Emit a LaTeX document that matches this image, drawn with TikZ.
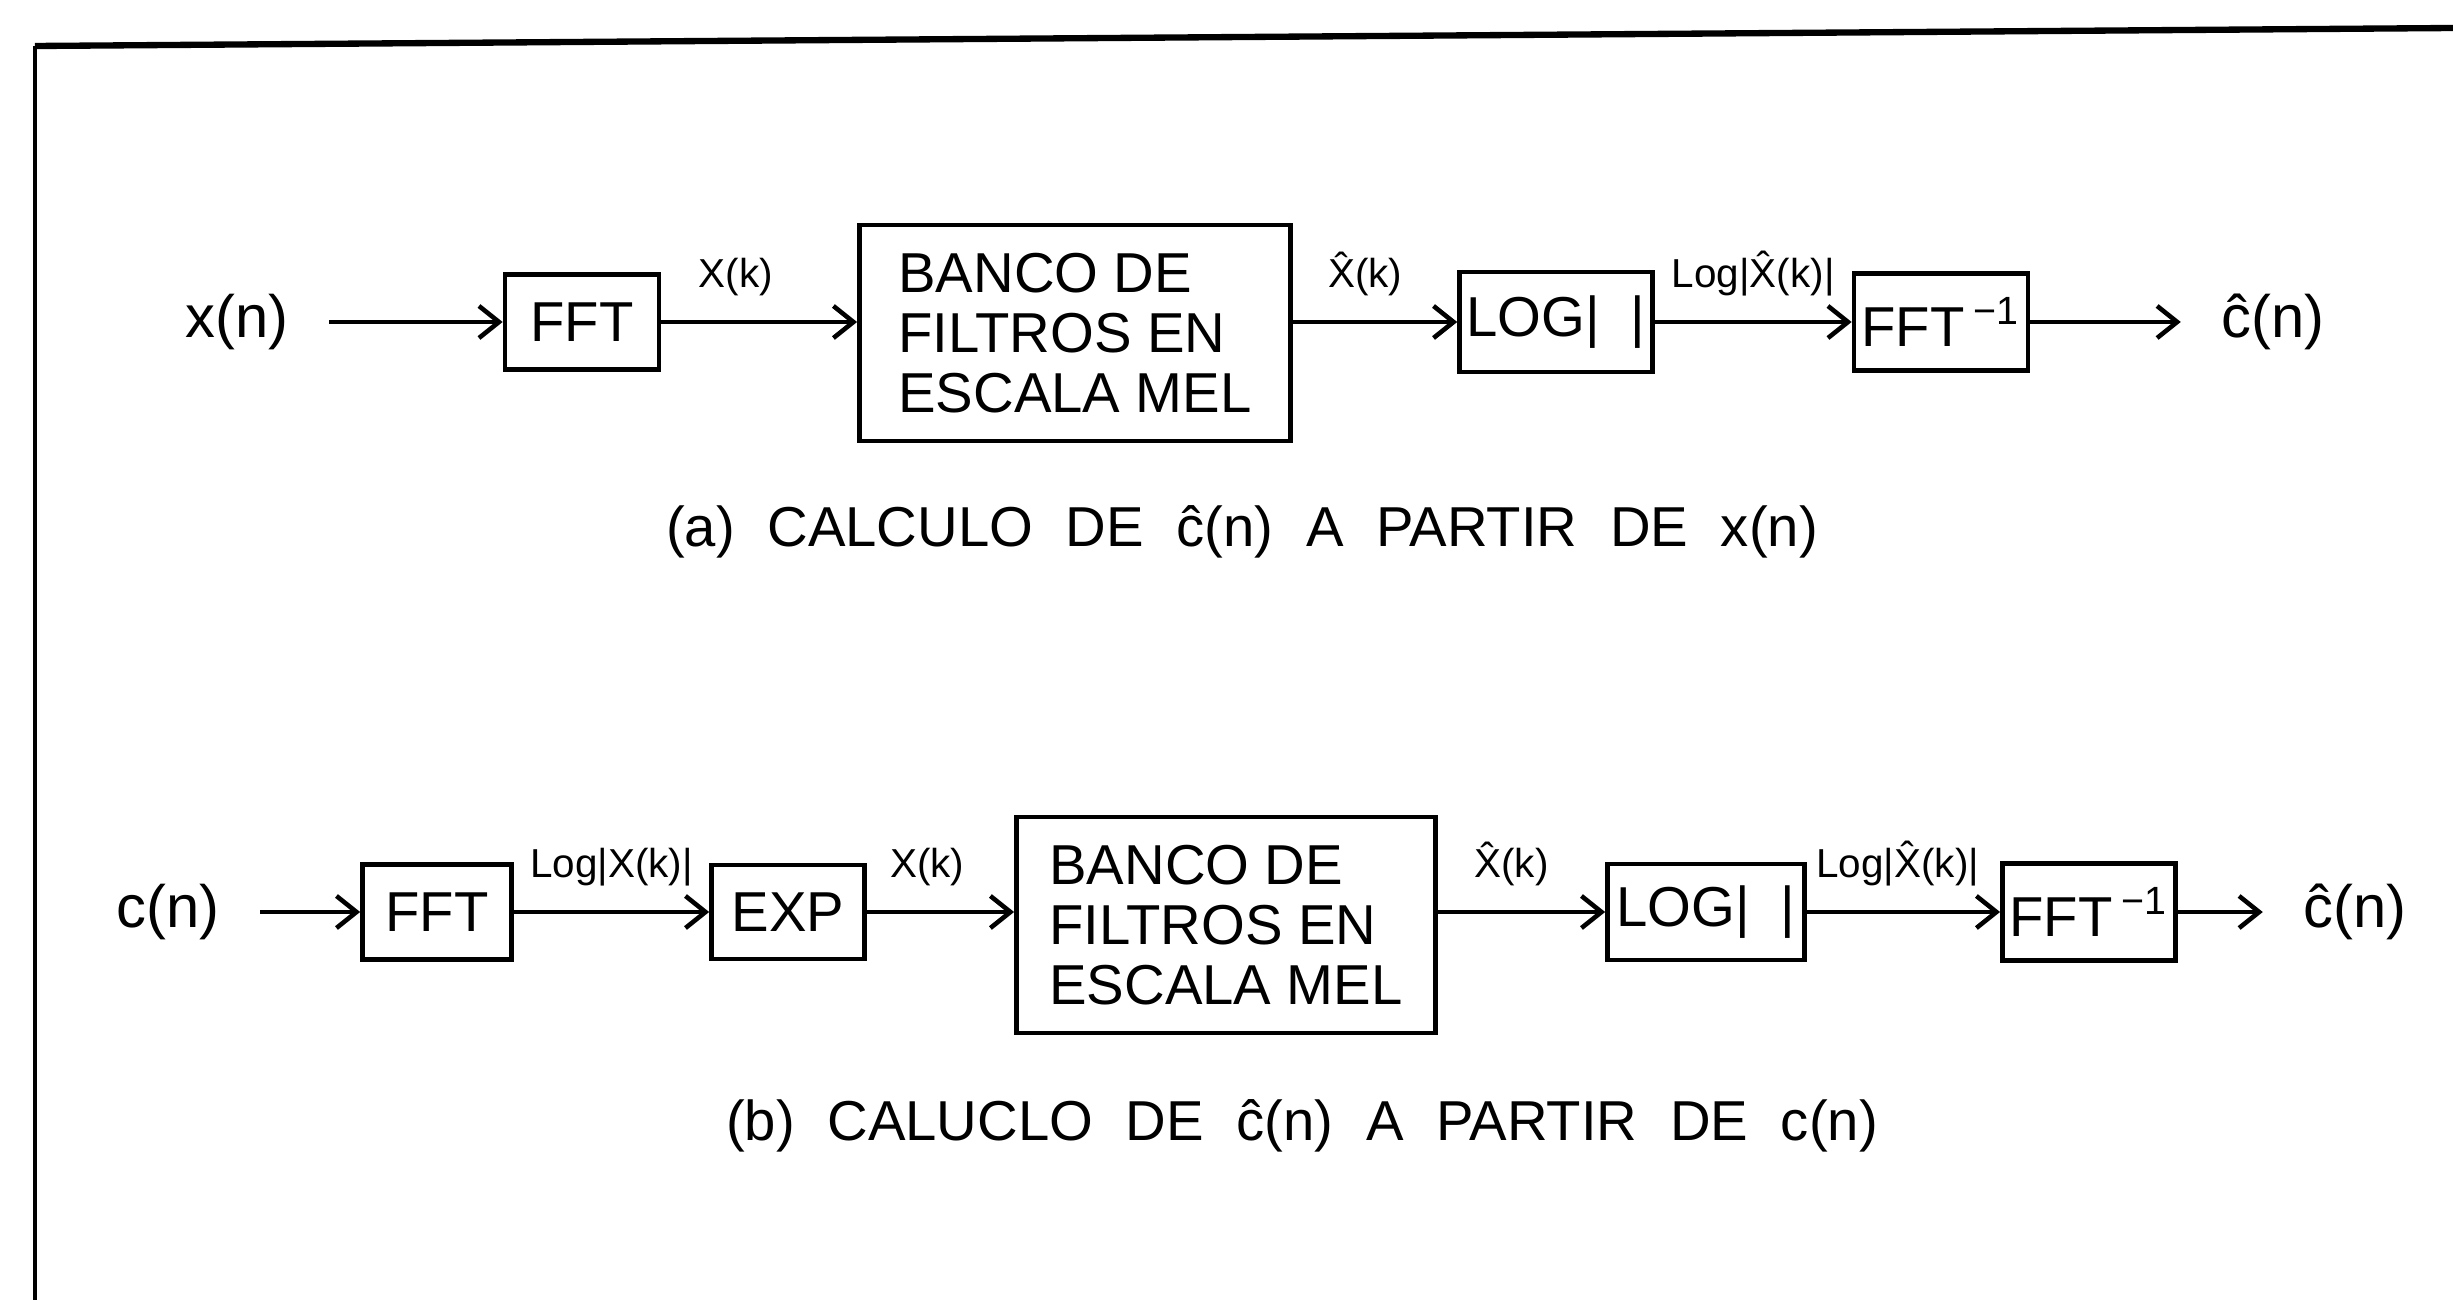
\documentclass[tikz,border=0pt]{standalone}
\usepackage{fontspec}
\setmainfont{Liberation Sans}
\usetikzlibrary{arrows.meta,positioning}
\newcommand\capfont{\fontsize{16}{18}\selectfont\spaceskip 0.58em plus 0.1em\relax}

\begin{document}
\begin{tikzpicture}[x=0.01cm,y=-0.01cm,
    blk/.style={draw,line width=1.3pt,inner sep=2pt,font=\fontsize{16}{17}\selectfont},
    bank/.style={blk,align=left,minimum height=2.16cm},
    sig/.style={inner xsep=0.4cm,font=\fontsize{17}{20}\selectfont},
    lbl/.style={above,inner sep=1pt,yshift=0.2cm,font=\fontsize{11.5}{12}\selectfont},
    captxt/.style={font=\capfont},
    arr/.style={line width=1.3pt,-{Straight Barb[length=2mm,width=3.2mm]}}]
  \useasboundingbox (0,0) rectangle (2453,1300);
  % marco
  \draw[line width=1.8pt] (35,46) -- (2453,28);
  \draw[line width=1pt] (35,46) -- (35,1300);

  % (a) a partir de x(n)
  \node[sig] (xa) at (237,322) {x(n)};
  \node[blk,minimum width=1.54cm,minimum height=0.95cm] (fftA) at (582,322) {FFT};
  \node[bank,minimum width=4.31cm] (melA) at (1075,333) {BANCO DE\\FILTROS EN\\ESCALA MEL};
  \node[blk,minimum width=1.92cm,minimum height=1cm] (logA) at (1556,322) {LOG|\hspace{0.55em}|};
  \node[blk,minimum width=1.74cm,minimum height=0.97cm] (ifftA) at (1941,322) {FFT\,\textsuperscript{−1}};
  \node[sig] (ca) at (2273,322) {\^{c}(n)};
  \draw[arr] (xa) -- (fftA);
  \draw[arr] (fftA.east) -- node[lbl,pos=0.38] {X(k)} (fftA.east -| melA.west);
  \draw[arr] (melA.east |- logA.west) -- node[lbl,pos=0.44] {\^{X}(k)} (logA.west);
  \draw[arr] (logA) -- node[lbl] {Log|\^{X}(k)|} (ifftA);
  \draw[arr] (ifftA) -- (ca);
  \node[captxt] (capA) at (1242,532) {(a) CALCULO DE \^{c}(n) A PARTIR DE x(n)};

  % (b) a partir de c(n)
  \node[sig] (cb) at (168,912) {c(n)};
  \node[blk,minimum width=1.49cm,minimum height=0.95cm] (fftB) at (437,912) {FFT};
  \node[blk,minimum width=1.53cm,minimum height=0.94cm] (expB) at (788,912) {EXP};
  \node[bank,minimum width=4.19cm] (melB) at (1226,925) {BANCO DE\\FILTROS EN\\ESCALA MEL};
  \node[blk,minimum width=1.97cm,minimum height=0.96cm] (logB) at (1706,912) {LOG|\hspace{0.55em}|};
  \node[blk,minimum width=1.72cm,minimum height=0.97cm] (ifftB) at (2089,912) {FFT\,\textsuperscript{−1}};
  \node[sig] (chb) at (2355,912) {\^{c}(n)};
  \draw[arr] (cb) -- (fftB);
  \draw[arr] (fftB) -- node[lbl] {Log|X(k)|} (expB);
  \draw[arr] (expB.east) -- node[lbl,pos=0.41] {X(k)} (expB.east -| melB.west);
  \draw[arr] (melB.east |- logB.west) -- node[lbl,pos=0.44] {\^{X}(k)} (logB.west);
  \draw[arr] (logB) -- node[lbl,pos=0.47] {Log|\^{X}(k)|} (ifftB);
  \draw[arr] (ifftB) -- (chb);
  \node[captxt] (capB) at (1302,1126) {(b) CALUCLO DE \^{c}(n) A PARTIR DE c(n)};
\end{tikzpicture}
\end{document}
